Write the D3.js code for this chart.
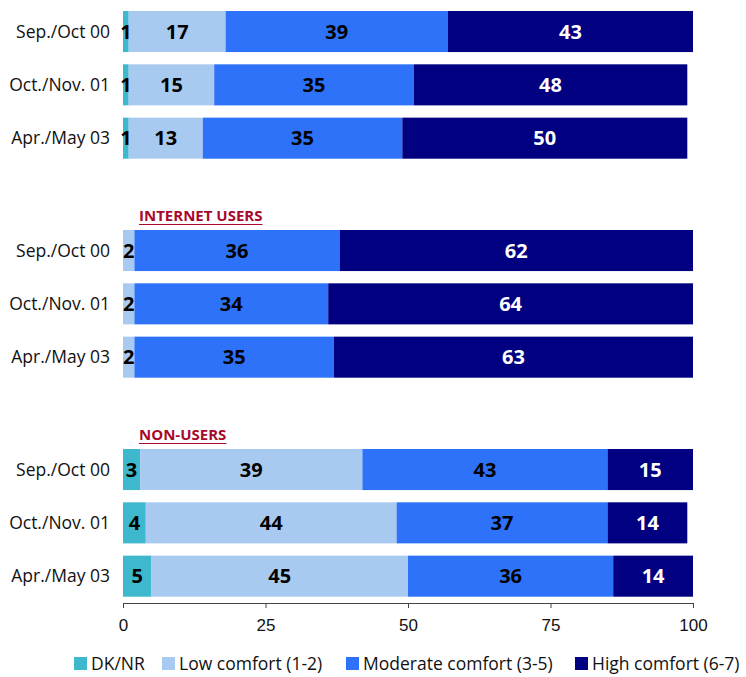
<!DOCTYPE html>
<html>
<head>
<meta charset="utf-8">
<script src="https://cdn.jsdelivr.net/npm/d3@7"></script>
<style>
  body { margin: 0; background: #fff; }
  svg { font-family: "Open Sans", "Noto Sans", sans-serif; }
  .axis path, .axis line { stroke: #444; }
  .axis text { font-size: 17px; fill: #111; }
</style>
</head>
<body>
<svg id="chart" width="746" height="677"></svg>
<script>
// ---- data ----
var periods = ['Sep./Oct 00', 'Oct./Nov. 01', 'Apr./May 03'];
var seriesNames = ['DK/NR', 'Low comfort (1-2)', 'Moderate comfort (3-5)', 'High comfort (6-7)'];
var seriesColors = ['#3db8cc', '#a9caf0', '#2d72f8', '#000080'];
var groupTitles = ['', 'INTERNET USERS', 'NON-USERS'];

// one row per period: DK/NR, low, moderate, high
var allValues = [[1, 17, 39, 43], [1, 15, 35, 48], [1, 13, 35, 50]];
var internetValues = [[0, 2, 36, 62], [0, 2, 34, 64], [0, 2, 35, 63]];
var nonUserValues = [[3, 39, 43, 15], [4, 44, 37, 14], [5, 45, 36, 14]];

var tickValues = [0, 25, 50, 75, 100];

// ---- layout ----
var svg = d3.select('#chart');

var x = d3.scaleLinear().domain([0, 100]).range([123, 693]);
var groupY = d3.scaleLinear().domain([0, 2]).range([11, 449]);
var rowY = d3.scaleBand().domain(periods).range([0, 147.7]).paddingInner(0.23).paddingOuter(0);

var groups = [allValues, internetValues, nonUserValues];

var stack = d3.stack().keys(d3.range(seriesNames.length));

groups.forEach(function (values, gi) {

    var rows = values.map(function (v, i) {
        var o = { period: periods[i] };
        v.forEach(function (n, k) { o[k] = n; });
        return o;
    });

    var g = svg.append('g')
        .attr('transform', 'translate(0,' + groupY(gi) + ')');

    // group title, underlined
    if (groupTitles[gi]) {
        var title = g.append('text')
            .attr('x', 139)
            .attr('y', -9)
            .attr('font-size', '15px')
            .attr('font-weight', 'bold')
            .attr('fill', '#a8082c')
            .text(groupTitles[gi]);
        var tw = title.node().getComputedTextLength();
        g.append('line')
            .attr('x1', 139).attr('x2', 139 + tw)
            .attr('y1', -5.5).attr('y2', -5.5)
            .attr('stroke', '#a8082c')
            .attr('stroke-width', 1.2);
    }

    // period labels
    g.selectAll('text.period')
        .data(periods)
        .enter().append('text')
            .attr('class', 'period')
            .attr('x', 110)
            .attr('y', function (d) { return rowY(d) + rowY.bandwidth() / 2; })
            .attr('dy', '0.35em')
            .attr('text-anchor', 'end')
            .attr('font-size', '17.5px')
            .attr('fill', '#111')
            .text(function (d) { return d; });

    var layers = g.selectAll('g.layer')
        .data(stack(rows))
        .enter().append('g')
            .attr('class', 'layer')
            .attr('fill', function (d) { return seriesColors[d.key]; });

    layers.selectAll('rect')
        .data(function (d) { return d; })
        .enter().append('rect')
            .attr('x', function (d) { return x(d[0]); })
            .attr('y', function (d) { return rowY(d.data.period); })
            .attr('width', function (d) { return x(d[1]) - x(d[0]); })
            .attr('height', rowY.bandwidth());

    // value labels
    layers.selectAll('text')
        .data(function (d) {
            return d.map(function (s) { s.key = d.key; return s; })
                .filter(function (s) { return s[1] - s[0] > 0; });
        })
        .enter().append('text')
            .attr('x', function (d) { return (x(d[0]) + x(d[1])) / 2; })
            .attr('y', function (d) { return rowY(d.data.period) + rowY.bandwidth() / 2; })
            .attr('dy', '0.36em')
            .attr('text-anchor', 'middle')
            .attr('font-size', '20px')
            .attr('font-weight', 'bold')
            .attr('fill', function (d) { return d.key === 3 ? '#fff' : '#000'; })
            .text(function (d) { return d[1] - d[0]; });
});

// ---- axis ----
svg.append('g')
    .attr('class', 'axis')
    .attr('transform', 'translate(0,603)')
    .call(d3.axisBottom(x).tickValues(tickValues).tickSize(5).tickSizeOuter(0).tickPadding(11));

// ---- legend ----
var legendX = [74, 162, 346, 575];
var legend = svg.selectAll('g.legend')
    .data(seriesNames)
    .enter().append('g')
        .attr('class', 'legend')
        .attr('transform', function (d, i) { return 'translate(' + legendX[i] + ',657)'; });

legend.append('rect')
    .attr('width', 13)
    .attr('height', 13)
    .attr('fill', function (d, i) { return seriesColors[i]; });

legend.append('text')
    .attr('x', 17)
    .attr('y', 6.5)
    .attr('dy', '0.35em')
    .attr('font-size', '17.5px')
    .attr('fill', '#111')
    .text(function (d) { return d; });
</script>
</body>
</html>
